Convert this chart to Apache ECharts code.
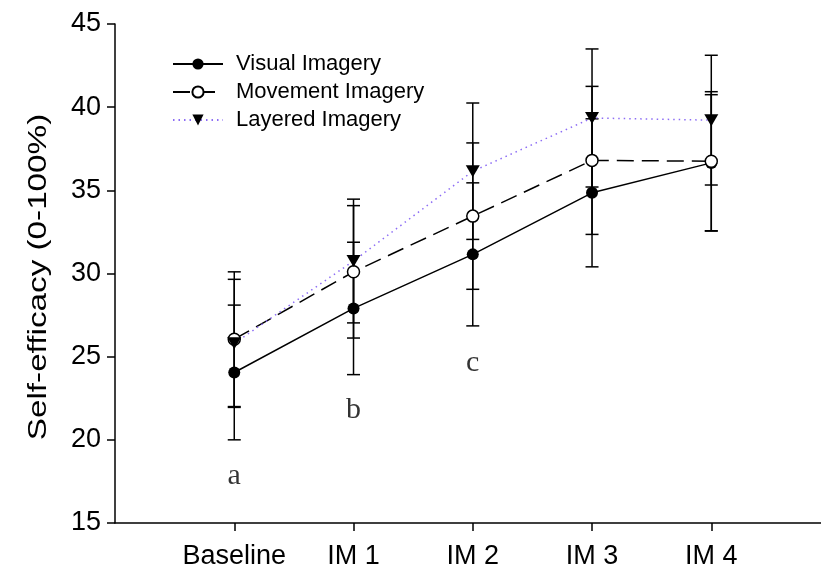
<!DOCTYPE html>
<html><head><meta charset="utf-8">
<script src="https://cdn.jsdelivr.net/npm/echarts@6/dist/echarts.min.js"></script>
<style>html,body{margin:0;padding:0;background:#fff}#c{width:821px;height:574px}</style>
</head><body><div id="c"></div>
<script>
const categories = ['Baseline', 'IM 1', 'IM 2', 'IM 3', 'IM 4'];
const seriesNames = ['Visual Imagery', 'Movement Imagery', 'Layered Imagery'];
const visualMean = [24.05, 27.9, 31.15, 34.85, 36.65];
const visualErr = [4.05, 3.98, 4.3, 4.45, 4.1];
const movementMean = [26.05, 30.1, 33.45, 36.8, 36.75];
const movementErr = [4.05, 3.98, 4.4, 4.45, 4.18];
const layeredMean = [25.8, 30.75, 36.15, 39.35, 39.22];
const layeredErr = [3.85, 3.72, 4.1, 4.15, 3.9];
const annotLetters = ['a', 'b', 'c'];
const annotCats = [0, 1, 2];
const annotY = [17.83, 21.8, 24.6];

const SANS = '"Liberation Sans", Arial, sans-serif';
const SERIF = '"Liberation Serif", "Times New Roman", serif';

function errData(mean, err) {
  return mean.map((m, i) => [i, m - err[i], m + err[i]]);
}
function errRender(params, api) {
  const x = api.value(0), lo = api.value(1), hi = api.value(2);
  const p1 = api.coord([x, lo]), p2 = api.coord([x, hi]);
  const hw = 6.5;
  const style = { stroke: '#000', lineWidth: 1.5 };
  return { type: 'group', children: [
    { type: 'line', shape: { x1: p1[0], y1: p1[1], x2: p2[0], y2: p2[1] }, style: style },
    { type: 'line', shape: { x1: p1[0] - hw, y1: p1[1], x2: p1[0] + hw, y2: p1[1] }, style: style },
    { type: 'line', shape: { x1: p2[0] - hw, y1: p2[1], x2: p2[0] + hw, y2: p2[1] }, style: style }
  ]};
}
function pts(mean) { return mean.map((v, i) => [i, v]); }
function errSeries(mean, err) {
  return { type: 'custom', renderItem: errRender, data: errData(mean, err),
    encode: { x: 0, y: [1, 2] }, z: 1, silent: true };
}

const chart = echarts.init(document.getElementById('c'));
chart.setOption({
  animation: false,
  backgroundColor: '#fff',
  grid: { left: 115, right: 0, top: 24, bottom: 51 },
  legend: {
    orient: 'vertical', left: 167, top: 48, itemWidth: 50, itemHeight: 14, itemGap: 6,
    data: seriesNames,
    textStyle: { fontFamily: SANS, fontSize: 22, color: '#000', padding: [0, 0, 0, 8] }
  },
  xAxis: {
    type: 'value', min: -1, max: 4.92,
    axisLine: { show: true, onZero: false, lineStyle: { color: '#000', width: 1.5 } },
    axisTick: { show: true, length: 8, lineStyle: { color: '#000', width: 1.5 }, customValues: [0, 1, 2, 3, 4] },
    axisLabel: { customValues: [0, 1, 2, 3, 4], formatter: v => categories[Math.round(v)],
      fontFamily: SANS, fontSize: 27, color: '#000', margin: 20 },
    splitLine: { show: false }
  },
  yAxis: {
    type: 'value', min: 15, max: 45, interval: 5,
    axisLine: { show: true, onZero: false, lineStyle: { color: '#000', width: 1.5 } },
    axisTick: { show: true, length: 8, lineStyle: { color: '#000', width: 1.5 } },
    axisLabel: { fontFamily: SANS, fontSize: 27, color: '#000', margin: 14 },
    splitLine: { show: false }
  },
  graphic: [{
    type: 'text', x: 39, y: 277, rotation: Math.PI / 2, scaleX: 1.33,
    style: { text: 'Self-efficacy (0-100%)', font: '25px ' + SANS, fill: '#000', align: 'center', verticalAlign: 'middle' }
  }],
  series: [
    errSeries(visualMean, visualErr),
    errSeries(movementMean, movementErr),
    errSeries(layeredMean, layeredErr),
    {
      name: seriesNames[0], type: 'line', data: pts(visualMean), z: 3,
      symbol: 'circle', symbolSize: 12,
      itemStyle: { color: '#000' },
      lineStyle: { color: '#000', width: 1.5, type: 'solid' }
    },
    {
      name: seriesNames[1], type: 'line', data: pts(movementMean), z: 3,
      symbol: 'circle', symbolSize: 12,
      itemStyle: { color: '#fff', borderColor: '#000', borderWidth: 1.5 },
      lineStyle: { color: '#000', width: 1.5, type: [17, 8] }
    },
    {
      name: seriesNames[2], type: 'line', data: pts(layeredMean), z: 3,
      symbol: 'triangle', symbolRotate: 180, symbolSize: [14, 12],
      itemStyle: { color: '#000' },
      lineStyle: { color: '#8c6cf5', width: 1.5, type: [1.5, 4] }
    },
    {
      type: 'scatter', symbolSize: 1, itemStyle: { color: 'rgba(0,0,0,0)' }, silent: true, z: 4,
      data: annotLetters.map((l, i) => ({ name: l, value: [annotCats[i], annotY[i]] })),
      label: { show: true, position: 'inside', formatter: '{b}', fontFamily: SERIF, fontSize: 30, color: '#000' }
    }
  ]
});
</script></body></html>
